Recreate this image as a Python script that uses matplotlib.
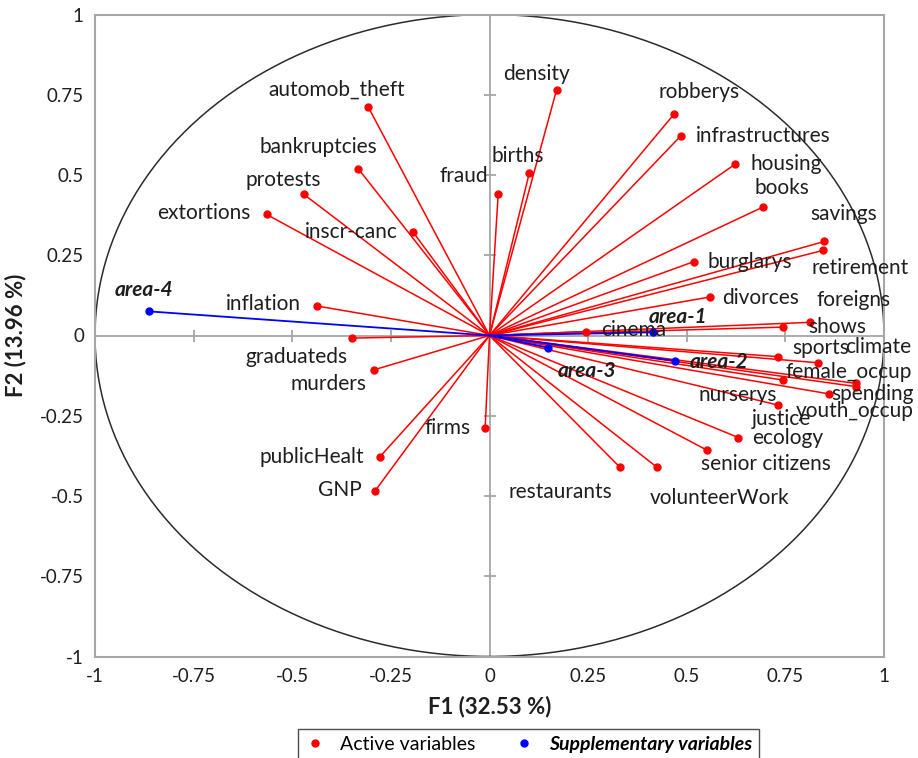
import matplotlib
matplotlib.use('Agg')
import matplotlib.pyplot as plt
import numpy as np

plt.rcParams['font.family'] = ['Lato', 'DejaVu Sans']

# correlation circle coordinates on F1 / F2
active_names = ['automob_theft', 'bankruptcies', 'protests', 'extortions', 'inscr-canc',
                'inflation', 'graduateds', 'murders', 'firms', 'publicHealt', 'GNP',
                'fraud', 'births', 'density', 'robberys', 'infrastructures', 'housing',
                'books', 'savings', 'retirement', 'burglarys', 'divorces', 'cinema',
                'foreigns', 'shows', 'sports', 'climate', 'female_occup', 'youth_occup',
                'spending', 'nurserys', 'justice', 'ecology', 'senior citizens',
                'volunteerWork', 'restaurants']
active_f1 = [-0.307, -0.333, -0.471, -0.565, -0.193,
             -0.438, -0.349, -0.293, -0.011, -0.278, -0.290,
             0.022, 0.101, 0.170, 0.468, 0.485, 0.623,
             0.693, 0.849, 0.845, 0.518, 0.559, 0.244,
             0.812, 0.743, 0.732, 0.833, 0.928, 0.928,
             0.861, 0.745, 0.732, 0.631, 0.551,
             0.425, 0.331]
active_f2 = [0.711, 0.520, 0.440, 0.377, 0.321,
             0.092, -0.008, -0.107, -0.288, -0.378, -0.484,
             0.441, 0.507, 0.765, 0.690, 0.622, 0.534,
             0.400, 0.293, 0.265, 0.230, 0.120, 0.012,
             0.041, 0.026, -0.066, -0.085, -0.149, -0.159,
             -0.182, -0.139, -0.217, -0.318, -0.357,
             -0.411, -0.411]

supp_names = ['area-1', 'area-2', 'area-3', 'area-4']
supp_f1 = [0.415, 0.471, 0.149, -0.862]
supp_f2 = [0.010, -0.079, -0.038, 0.075]

ticks = [-1, -0.75, -0.5, -0.25, 0, 0.25, 0.5, 0.75, 1]
tick_labels = ['-1', '-0.75', '-0.5', '-0.25', '0', '0.25', '0.5', '0.75', '1']

# label offsets from each point, in pixels
label_offsets = {
    'automob_theft': (-32, 18), 'bankruptcies': (-40, 22), 'protests': (-20, 14),
    'extortions': (-63, 1), 'inscr-canc': (-62, 0), 'inflation': (-53, 2),
    'graduateds': (-55, -19), 'murders': (-45, -14), 'firms': (-38, 0),
    'publicHealt': (-68, 0), 'GNP': (-35, 1), 'fraud': (-34, 18),
    'births': (-12, 17), 'density': (-20, 16), 'robberys': (25, 22),
    'infrastructures': (82, 0), 'housing': (51, 0), 'books': (19, 19),
    'savings': (19, 27), 'retirement': (37, -18), 'burglarys': (56, 0),
    'divorces': (51, -1), 'cinema': (48, 2), 'foreigns': (44, 22),
    'shows': (55, 0), 'sports': (42, 9), 'climate': (60, 16),
    'female_occup': (-7, 11), 'youth_occup': (-1, -24), 'spending': (43, 0),
    'nurserys': (-46, -15), 'justice': (3, -14), 'ecology': (49, 0),
    'senior citizens': (59, -14), 'volunteerWork': (62, -31),
    'restaurants': (-60, -25),
    'area-1': (25, 15), 'area-2': (44, -1), 'area-3': (39, -23), 'area-4': (-5, 21),
}

txt = '#1e1e1e'
grey = '#a6a6a6'
label_size = 15

fig = plt.figure(figsize=(9.18, 7.58), dpi=100)
ax = fig.add_axes([95 / 918, 1 - 656.5 / 758, 789 / 918, 642 / 758])

# unit circle
theta = np.linspace(0, 2 * np.pi, 400)
ax.plot(np.cos(theta), np.sin(theta), color='#2b2b2b', lw=1.1, zorder=2)

# axes through the origin with cross ticks
ax.axhline(0, color=grey, lw=1.3, zorder=1)
ax.axvline(0, color=grey, lw=1.3, zorder=1)
inner = [t for t in ticks if abs(t) not in (0, 1)]
ax.plot(inner, np.zeros(len(inner)), ls='none', marker='|', ms=9, mew=1.3, color=grey, zorder=1)
ax.plot(np.zeros(len(inner)), inner, ls='none', marker='_', ms=9, mew=1.3, color=grey, zorder=1)

# vectors
for x, y in zip(active_f1, active_f2):
    ax.plot([0, x], [0, y], color='#ff0000', lw=1.1, zorder=3)
for x, y in zip(supp_f1, supp_f2):
    ax.plot([0, x], [0, y], color='#0000ff', lw=1.3, zorder=4)
h_act, = ax.plot(active_f1, active_f2, ls='none', marker='o', ms=5, color='#ff0000', zorder=5)
h_sup, = ax.plot(supp_f1, supp_f2, ls='none', marker='o', ms=5, color='#0000ff', zorder=5)

for n, x, y in zip(active_names, active_f1, active_f2):
    ax.annotate(n, (x, y), xytext=label_offsets[n], textcoords='offset pixels',
                ha='center', va='center', fontsize=label_size, color=txt, zorder=6)
for n, x, y in zip(supp_names, supp_f1, supp_f2):
    ax.annotate(n, (x, y), xytext=label_offsets[n], textcoords='offset pixels',
                ha='center', va='center', fontsize=label_size, color=txt,
                fontweight='bold', fontstyle='italic', zorder=6)

ax.set_xlim(-1, 1)
ax.set_ylim(-1, 1)
ax.set_xticks(ticks)
ax.set_xticklabels(tick_labels)
ax.set_yticks(ticks)
ax.set_yticklabels(tick_labels)
ax.tick_params(length=0, pad=8, labelsize=13.5, colors=txt)
for s in ax.spines.values():
    s.set_color(grey)
    s.set_linewidth(1.5)

ax.set_xlabel('F1 (32.53 %)', fontsize=16, fontweight='bold', color=txt, labelpad=8)
ax.set_ylabel('F2 (13.96 %)', fontsize=16, fontweight='bold', color=txt, labelpad=10)

leg = fig.legend([h_act, h_sup], ['Active variables', 'Supplementary variables'],
                 loc='upper center', bbox_to_anchor=(0.576, 0.0383), ncol=2,
                 fancybox=False, edgecolor='#202020', fontsize=14, handlelength=1,
                 handletextpad=0.8, columnspacing=2.0, borderpad=0.35, borderaxespad=0)
leg.get_frame().set_linewidth(1.0)
leg.get_texts()[1].set_fontweight('bold')
leg.get_texts()[1].set_fontstyle('italic')

fig.savefig('out.png', dpi=100)
